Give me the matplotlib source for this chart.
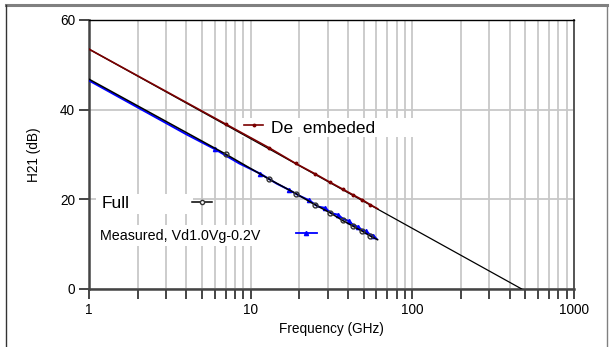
import numpy as np
import matplotlib.pyplot as plt
from matplotlib.lines import Line2D
from matplotlib.patches import Rectangle
from matplotlib.ticker import LogLocator, NullFormatter, FixedLocator

plt.rcParams['font.family'] = ['Liberation Sans', 'DejaVu Sans']

# 数据 (GHz, dB)
fit_f = [1, 475]
fit_db = [53.5, 0.0]

full_f = [1, 7, 13, 19, 25, 31, 37, 43, 49, 55, 61]
full_db = [46.8, 30.1, 24.5, 21.3, 18.8, 17.0, 15.3, 14.0, 12.9, 11.8, 11.0]
deemb_db = [53.5, 36.8, 31.5, 28.0, 25.7, 23.8, 22.3, 21.0, 19.9, 18.8, 17.9]

meas_f = [1, 2, 3, 4, 6, 8.5, 11.5, 14.5, 17.3, 20, 23, 26, 28.8, 31.5,
          34.5, 37.5, 40.3, 43, 46, 49, 51.8, 54.5, 57.5, 60]
meas_db = [46.5, 40.5, 37.0, 34.5, 31.2, 28.0, 25.7, 23.5, 22.1, 20.8, 19.8,
           18.4, 18.1, 16.9, 16.6, 15.6, 15.2, 14.3, 13.9, 13.1, 12.9, 12.2,
           11.9, 11.2]
meas_marks = [4, 6, 8, 10, 12, 14, 16, 18, 20, 22]

xticks = [1, 10, 100, 1000]
yticks = [0, 20, 40, 60]

fig = plt.figure(figsize=(6.13, 3.47), dpi=100)
ax = fig.add_axes([89 / 613, 1 - 289 / 347, 485 / 613, 269 / 347])

dark_red = '#7a0000'
ax.plot(fit_f, fit_db, color='black', lw=0.9, zorder=3)
ax.plot(meas_f, meas_db, color='#0000ff', lw=1.4, marker='^', ms=3,
        markevery=meas_marks, zorder=4)
ax.plot(full_f, full_db, color='black', lw=1.1, marker='o', ms=3.5,
        mfc='none', mec='#333333', mew=1, markevery=list(range(1, 10)), zorder=5)
ax.plot(full_f, deemb_db, color=dark_red, lw=1.2, marker='o', ms=1.8,
        mec=dark_red, mfc=dark_red, markevery=list(range(1, 10)), zorder=5)

ax.set_xscale('log')
ax.set_xlim(1, 1000)
ax.set_ylim(0, 60)
ax.xaxis.set_major_locator(FixedLocator(xticks))
ax.xaxis.set_minor_locator(LogLocator(base=10, subs=np.arange(2, 10)))
ax.xaxis.set_minor_formatter(NullFormatter())
ax.set_xticklabels([str(t) for t in xticks])
ax.set_yticks(yticks)

ax.grid(True, which='both', axis='x', color='#c8c8c8', lw=1.3, zorder=0)
ax.grid(True, which='major', axis='y', color='#c8c8c8', lw=1.3, zorder=0)
ax.set_axisbelow(True)

ax.tick_params(axis='both', which='both', direction='out', length=7, width=1.4,
               color='#444444', labelsize=9.8, pad=3)
ax.tick_params(axis='x', which='both', top=False)
ax.tick_params(axis='y', right=False)
ax.spines['left'].set_color('#444444')
ax.spines['left'].set_linewidth(1.8)
ax.spines['bottom'].set_color('#444444')
ax.spines['bottom'].set_linewidth(1.8)
ax.spines['top'].set_color('black')
ax.spines['top'].set_linewidth(1.0)
ax.spines['right'].set_color('#555555')
ax.spines['right'].set_linewidth(1.4)

ax.set_xlabel('Frequency (GHz)', fontsize=9.8, labelpad=4)
ax.set_ylabel('H21 (dB)', fontsize=9.8, labelpad=14)

# 图例 (白底)
for x0, y0, w, h in [(0.307, 0.565, 0.363, 0.071),
                     (0.015, 0.280, 0.200, 0.072),
                     (0.013, 0.158, 0.400, 0.080)]:
    ax.add_patch(Rectangle((x0, y0), w, h, transform=ax.transAxes,
                           facecolor='white', edgecolor='none', zorder=1))

ax.text(0.375, 0.598, 'De  embeded', transform=ax.transAxes, fontsize=12.5,
        va='center', ha='left', zorder=6)
ax.plot([0.320, 0.359], [0.608, 0.608], transform=ax.transAxes, color=dark_red,
        lw=1.2, zorder=6)
ax.plot([0.340], [0.608], transform=ax.transAxes, color=dark_red, marker='o',
        ms=1.8, zorder=6)

ax.text(0.026, 0.316, 'Full', transform=ax.transAxes, fontsize=12.5,
        va='center', ha='left', zorder=6)
ax.plot([0.212, 0.254], [0.323, 0.323], transform=ax.transAxes, color='black',
        lw=1.1, zorder=6)
ax.plot([0.232], [0.323], transform=ax.transAxes, marker='o', ms=3,
        mfc='white', mec='#333333', zorder=6)

ax.text(0.022, 0.198, 'Measured, Vd1.0Vg-0.2V', transform=ax.transAxes,
        fontsize=10.3, va='center', ha='left', zorder=6)
ax.plot([0.427, 0.470], [0.207, 0.207], transform=ax.transAxes, color='#0000ff',
        lw=1.3, zorder=6)
ax.plot([0.448], [0.207], transform=ax.transAxes, marker='^', ms=3,
        color='#0000ff', zorder=6)

# 外框
fig.add_artist(Line2D([6 / 613, 607 / 613], [1 - 5 / 347, 1 - 5 / 347],
                      transform=fig.transFigure, color='#808080', lw=2.2))
fig.add_artist(Line2D([6 / 613, 6 / 613], [0, 1 - 5 / 347],
                      transform=fig.transFigure, color='#333333', lw=1.0))
fig.add_artist(Line2D([607 / 613, 607 / 613], [0, 1 - 5 / 347],
                      transform=fig.transFigure, color='#808080', lw=1.0))

fig.savefig('out.png', dpi=100)
